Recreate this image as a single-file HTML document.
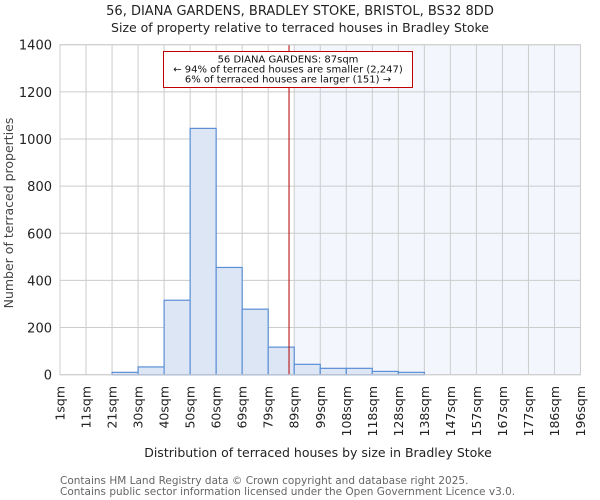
<!DOCTYPE html>
<html><head><meta charset="utf-8"><style>
body{margin:0;background:#fff}
svg{display:block;font-family:"DejaVu Sans","Liberation Sans",sans-serif}
</style></head><body>
<svg id="chart" width="600" height="500" viewBox="0 0 600 500" xmlns="http://www.w3.org/2000/svg">
<text x="300" y="15" text-anchor="middle" font-size="13" fill="#222">56, DIANA GARDENS, BRADLEY STOKE, BRISTOL, BS32 8DD</text>
<text x="300" y="32" text-anchor="middle" font-size="12.5" fill="#222">Size of property relative to terraced houses in Bradley Stoke</text>
<g id="plot"></g>
<text transform="translate(13,213) rotate(-90)" text-anchor="middle" font-size="12.5" fill="#444">Number of terraced properties</text>
<text x="318" y="457" text-anchor="middle" font-size="12.5" fill="#222">Distribution of terraced houses by size in Bradley Stoke</text>
<text x="60" y="484" font-size="10.5" fill="#666">Contains HM Land Registry data © Crown copyright and database right 2025.</text>
<text x="60" y="495" font-size="10.5" fill="#666">Contains public sector information licensed under the Open Government Licence v3.0.</text>
</svg>
<script>
const binLabels=["1sqm","11sqm","21sqm","30sqm","40sqm","50sqm","60sqm","69sqm","79sqm","89sqm","99sqm","108sqm","118sqm","128sqm","138sqm","147sqm","157sqm","167sqm","177sqm","186sqm","196sqm"];
const counts=[0,0,10,33,316,1045,455,278,117,44,27,27,14,10,0,0,0,0,0,0];
const yTicks=[0,200,400,600,800,1000,1200,1400];
const propertyBin=8.8; // position in bin units (87sqm)
const highlightStartBin=9;

const NS="http://www.w3.org/2000/svg";
const L=60,R=580.5,T=44.7,B=374.7,yMax=1400;
const nb=counts.length;
const xs=i=>L+(R-L)*i/nb;
const ys=v=>B-(B-T)*v/yMax;
const g=document.getElementById('plot');
function mk(t,a){const e=document.createElementNS(NS,t);for(const k in a)e.setAttribute(k,a[k]);g.appendChild(e);return e;}
let e=mk('rect',{x:xs(highlightStartBin),y:T,width:R-xs(highlightStartBin),height:B-T,fill:'#f3f6fd'});


for(let i=0;i<=nb;i++){e=mk('line',{x1:xs(i),x2:xs(i),y1:T,y2:B,stroke:'#cccccc','stroke-width':1});

}
yTicks.forEach(v=>{e=mk('line',{x1:L,x2:R,y1:ys(v),y2:ys(v),stroke:'#cccccc','stroke-width':1});


e=mk('text',{x:L-8,y:ys(v)+5,'text-anchor':'end','font-size':13,fill:'#222'});e.textContent=v;

});
counts.forEach((c,i)=>{if(c<=0)return;
e=mk('rect',{x:xs(i),y:ys(c),width:xs(i+1)-xs(i),height:B-ys(c),fill:'#dce6f4',stroke:'#5b8fd6','stroke-width':1.2});

});
binLabels.forEach((lab,i)=>{const x=xs(i);
e=mk('text',{transform:`translate(${x+4.5},386) rotate(-90)`,'text-anchor':'end','font-size':12.5,fill:'#222'});e.textContent=lab;

});
e=mk('line',{x1:xs(propertyBin),x2:xs(propertyBin),y1:T,y2:B,stroke:'#b00000','stroke-width':1});


e=mk('rect',{x:163.5,y:51.5,width:249,height:36,fill:'#fff',stroke:'#c00000','stroke-width':1});


["56 DIANA GARDENS: 87sqm","← 94% of terraced houses are smaller (2,247)","6% of terraced houses are larger (151) →"].forEach((t,k)=>{
e=mk('text',{x:288,y:62.5+k*10,'text-anchor':'middle','font-size':10,fill:'#111'});e.textContent=t;

});
e=mk('rect',{x:L,y:T,width:R-L,height:B-T,fill:'none',stroke:'#cccccc'});


</script>
</body></html>
